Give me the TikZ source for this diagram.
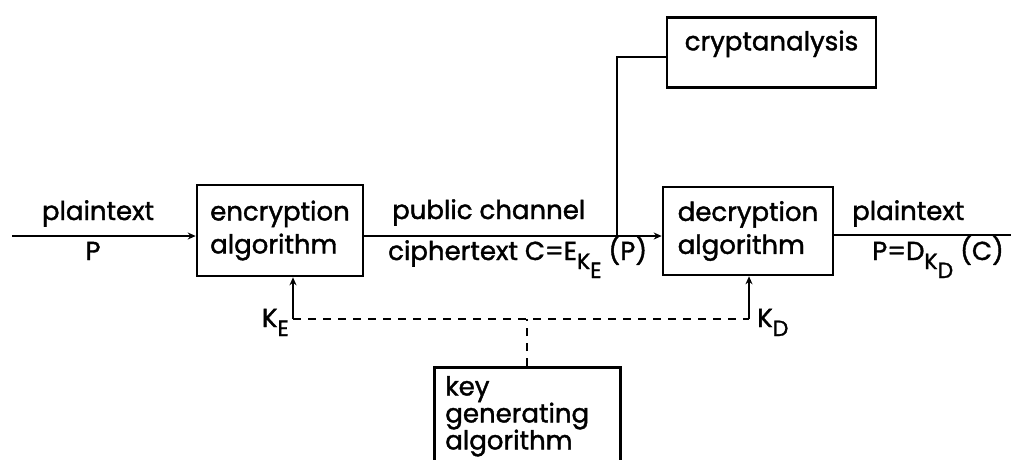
\documentclass[tikz,border=0pt]{standalone}
\usepackage{fontspec}
\setmainfont{Poppins}[UprightFeatures={FakeBold=1.5}]
\usetikzlibrary{arrows.meta,calc}
\newcommand\lowsub[1]{\raisebox{-9pt}{\fontsize{22}{22}\selectfont #1}}
\begin{document}
\begin{tikzpicture}[x=1pt,y=-1pt,
  every node/.style={font=\fontsize{26}{33}\selectfont},
  box/.style={draw, line width=2.6pt, inner sep=0pt},
  lbl/.style={inner sep=0pt},
  ln/.style={line width=2pt},
  arr/.style={-{Stealth[length=8pt,width=7pt]}},
  dsh/.style={line width=2pt, dash pattern=on 8pt off 7pt}]
\useasboundingbox (0,0) rectangle (1011,459);
\clip (0,0) rectangle (1011,459);
% boxes
\node[box, minimum width=166pt, minimum height=91pt, align=left] (enc) at (280,230.5) {encryption\\algorithm};
\node[box, minimum width=170pt, minimum height=88pt, align=left] (dec) at (748,231) {decryption\\algorithm};
\node[box, anchor=north, minimum width=209pt, text height=33pt, text depth=37pt] (crypt) at (771.5,16) {cryptanalysis};
\node[box, anchor=north west, minimum width=186pt, minimum height=98pt, inner xsep=11pt, text width=164pt, align=left, font=\fontsize{26}{27}\selectfont] (key) at (433,366) {key\\generating\\algorithm};
% coordinates
\coordinate (in) at (12,236);
\coordinate (tap) at (617,236);
\coordinate (cy) at (0,57);
\coordinate (out) at (1011,235);
\coordinate (ke) at (293,319);
\coordinate (kd) at (749,319);
% connectors
\draw[ln,arr] (in) -- (in -| enc.west);
\draw[ln,arr] (enc.east |- in) -- (dec.west |- in);
\draw[ln] (tap) |- (crypt.west |- cy);
\draw[ln] (dec.east |- out) -- (out);
\draw[ln,arr] (ke) -- (ke |- enc.south);
\draw[ln,arr] (kd) -- (kd |- dec.south);
\draw[dsh] (ke) -- (kd);
\draw[dsh] (key.north) -- (key.north |- ke);
% labels
\node[lbl, anchor=base] (pl1) at (98,220) {plaintext};
\node[lbl, anchor=base] (p1) at (93,260) {P};
\node[lbl, anchor=base west] (pc) at (392,219) {public channel};
\node[lbl, anchor=base west] (ct) at (388,260) {ciphertext C=E\lowsub{K\lowsub{E}} (P)};
\node[lbl, anchor=base west] (pl2) at (852,220) {plaintext};
\node[lbl, anchor=base west] (pd) at (872,260) {P=D\lowsub{K\lowsub{D}} (C)};
\node[lbl, anchor=base east] (kel) at (289,327) {K\lowsub{E}};
\node[lbl, anchor=base west] (kdl) at (757,327) {K\lowsub{D}};
\end{tikzpicture}
\end{document}
